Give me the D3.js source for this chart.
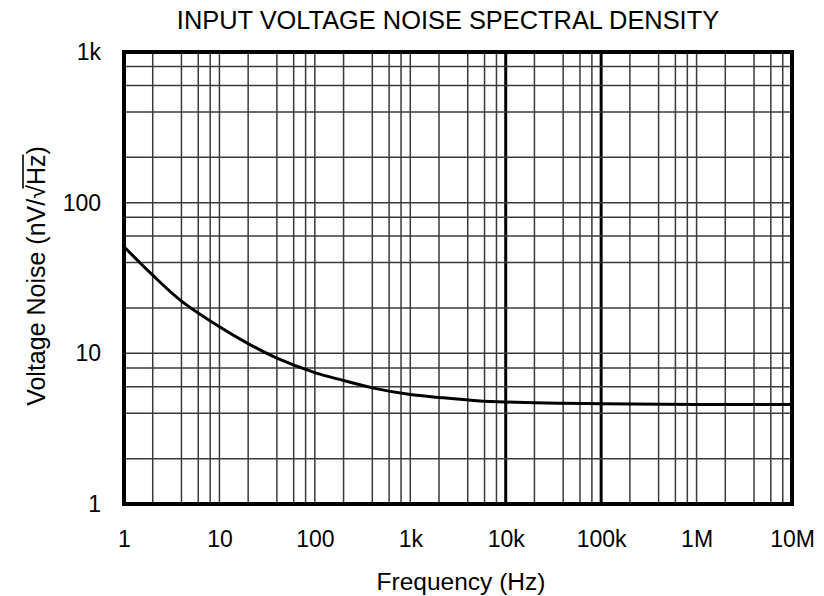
<!DOCTYPE html>
<html>
<head>
<meta charset="utf-8">
<script src="https://cdn.jsdelivr.net/npm/d3@7"></script>
<style>
  html, body { margin: 0; padding: 0; background: #fff; }
  svg { display: block; font-family: "Liberation Sans", Arial, sans-serif; }
</style>
</head>
<body>
<svg id="chart" width="824" height="596"></svg>
<script>
// ---- data ----
const freqs = [1, 2, 4, 10, 20, 40, 100, 200, 400, 1e3, 2e3, 5e3, 1e4, 1e5, 1e6, 1e7];
const noise = [51, 33, 22.2, 15.0, 11.6, 9.3, 7.45, 6.6, 5.9, 5.33, 5.1, 4.85, 4.75, 4.62, 4.58, 4.58];
const xTickValues = [1, 10, 100, 1e3, 1e4, 1e5, 1e6, 1e7];
const xTickLabels = ["1", "10", "100", "1k", "10k", "100k", "1M", "10M"];
const yTickValues = [1, 10, 100, 1000];
const yTickLabels = ["1", "10", "100", "1k"];
const minorMultipliers = [2, 4, 6, 8];
const heavyVerticals = [1e4, 1e5];
const titleText = "INPUT VOLTAGE NOISE SPECTRAL DENSITY";
const xAxisTitle = "Frequency (Hz)";

// ---- layout ----
const svg = d3.select("#chart");
const mLeft = 124, mRight = 792, mTop = 52, mBottom = 504;

const x = d3.scaleLog().domain([1, 1e7]).range([mLeft, mRight]);
const y = d3.scaleLog().domain([1, 1000]).range([mBottom, mTop]);

// grid values
const xGrid = [];
for (let d = 1; d < 1e7; d *= 10) {
  minorMultipliers.forEach(m => xGrid.push(d * m));
  if (d * 10 < 1e7) xGrid.push(d * 10);
}
const yGrid = [];
for (let d = 1; d < 1000; d *= 10) {
  minorMultipliers.forEach(m => yGrid.push(d * m));
  if (d * 10 < 1000) yGrid.push(d * 10);
}

const grid = svg.append("g");
grid.selectAll("line.v").data(xGrid).join("line")
  .attr("class", "v")
  .attr("x1", d => x(d)).attr("x2", d => x(d))
  .attr("y1", mTop).attr("y2", mBottom)
  .attr("stroke", d => heavyVerticals.includes(d) ? "#000" : "#3a3a3a")
  .attr("stroke-width", d => heavyVerticals.includes(d) ? 3 : 1.5);
grid.selectAll("line.h").data(yGrid).join("line")
  .attr("class", "h")
  .attr("x1", mLeft).attr("x2", mRight)
  .attr("y1", d => y(d)).attr("y2", d => y(d))
  .attr("stroke", "#3a3a3a")
  .attr("stroke-width", 1.5);

// curve
const pts = freqs.map((f, i) => [f, noise[i]]);
const line = d3.line().x(d => x(d[0])).y(d => y(d[1])).curve(d3.curveCatmullRom.alpha(0.5));
svg.append("path").datum(pts)
  .attr("d", line)
  .attr("fill", "none")
  .attr("stroke", "#000")
  .attr("stroke-width", 3)
  .attr("stroke-linejoin", "round");

// frame
svg.append("rect")
  .attr("x", mLeft).attr("y", mTop)
  .attr("width", mRight - mLeft).attr("height", mBottom - mTop)
  .attr("fill", "none").attr("stroke", "#000").attr("stroke-width", 4);

// axes
const xAxis = d3.axisBottom(x).tickValues(xTickValues)
  .tickFormat((d, i) => xTickLabels[i]).tickSize(0).tickPadding(27);
const gx = svg.append("g").attr("transform", `translate(0,${mBottom})`).call(xAxis);
gx.select(".domain").remove();
gx.selectAll("text").attr("font-size", 23).attr("fill", "#000")
  .attr("font-family", "Liberation Sans, Arial, sans-serif");

const yAxis = d3.axisLeft(y).tickValues(yTickValues)
  .tickFormat((d, i) => yTickLabels[i]).tickSize(0).tickPadding(23);
const gy = svg.append("g").attr("transform", `translate(${mLeft},0)`).call(yAxis);
gy.select(".domain").remove();
gy.selectAll("text").attr("font-size", 23).attr("fill", "#000")
  .attr("font-family", "Liberation Sans, Arial, sans-serif");

// title
svg.append("text")
  .attr("x", 448).attr("y", 29)
  .attr("text-anchor", "middle")
  .attr("font-size", 25.4)
  .text(titleText);

// x axis title
svg.append("text")
  .attr("x", 461).attr("y", 590)
  .attr("text-anchor", "middle")
  .attr("font-size", 24.5)
  .text(xAxisTitle);

// y axis title with radical
const yTitleTransform = "translate(45,276) rotate(-90)";
const yt = svg.append("text")
  .attr("transform", yTitleTransform)
  .attr("text-anchor", "middle")
  .attr("font-size", 25);
yt.append("tspan").text("Voltage Noise (nV/\u221A");
yt.append("tspan").text("Hz");
yt.append("tspan").text(")");
// overline above "Hz"
const node = yt.node();
const full = node.textContent;
const startIdx = full.indexOf("Hz");
const p0 = node.getStartPositionOfChar(startIdx - 1);
const p1 = node.getEndPositionOfChar(startIdx + 1);
const ext = node.getExtentOfChar(startIdx - 1);
svg.append("line")
  .attr("transform", yTitleTransform)
  .attr("x1", p0.x + ext.width * 0.75).attr("x2", p1.x)
  .attr("y1", ext.y + 1).attr("y2", ext.y + 1)
  .attr("stroke", "#000").attr("stroke-width", 1.6);
</script>
</body>
</html>
